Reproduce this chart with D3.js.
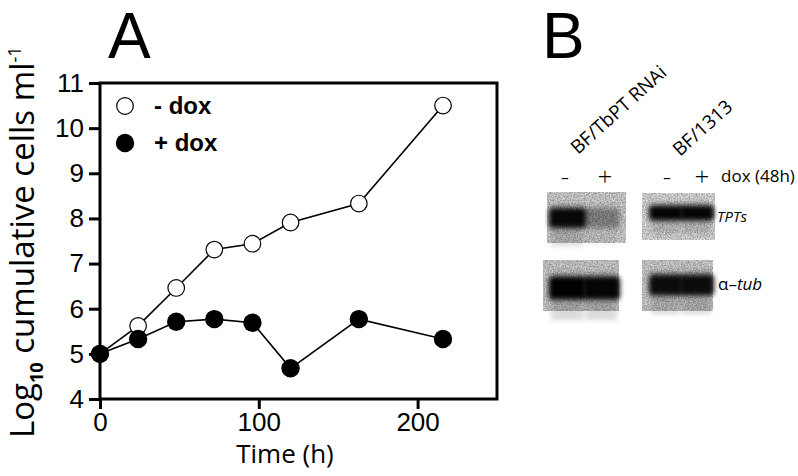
<!DOCTYPE html>
<html>
<head>
<meta charset="utf-8">
<script src="https://cdn.jsdelivr.net/npm/d3@7"></script>
<style>
  html, body { margin: 0; padding: 0; background: #fff; }
  svg { display: block; }
</style>
</head>
<body>
<div id="chart"></div>
<script>
// growth curve values (log10 cumulative cells/ml)
const hours = [0, 24, 48, 72, 96, 120, 163, 216];
const minusDox = [5.0, 5.62, 6.46, 7.31, 7.44, 7.91, 8.33, 10.5];
const plusDox = [5.0, 5.33, 5.71, 5.77, 5.69, 4.68, 5.77, 5.33];
const xTicks = [0, 100, 200];
const yTicks = [4, 5, 6, 7, 8, 9, 10, 11];
const legendLabels = ["- dox", "+ dox"];

// northern blot panel
const blotLanes = ["-", "+"];
const tptsRnai = [0.95, 0.32];
const tptsCtrl = [0.97, 0.97];
const tubRnai = [1.0, 0.97];
const tubCtrl = [0.92, 0.92];

const width = 798, height = 476;

const svg = d3.select("#chart")
  .append("svg")
  .attr("width", width)
  .attr("height", height);

const defs = svg.append("defs");

// soft edges for the bands
defs.append("filter")
  .attr("id", "blur")
  .attr("x", "-30%").attr("y", "-60%")
  .attr("width", "160%").attr("height", "220%")
  .append("feGaussianBlur")
  .attr("stdDeviation", 2.4);

// film grain on the blot background
const grain = defs.append("filter")
  .attr("id", "grain")
  .attr("x", 0).attr("y", 0).attr("width", 1).attr("height", 1);
grain.append("feTurbulence")
  .attr("type", "fractalNoise")
  .attr("baseFrequency", 0.75)
  .attr("numOctaves", 2)
  .attr("seed", 3);
grain.append("feColorMatrix")
  .attr("type", "matrix")
  .attr("values", "0 0 0 0 0  0 0 0 0 0  0 0 0 0 0  0.7 0 0 0 -0.2");

// ---------- panel A ----------
const x = d3.scaleLinear().domain([0, 250]).range([100, 497]);
const y = d3.scaleLinear().domain([4, 11]).range([399, 83]);

svg.append("text")
  .attr("x", 108)
  .attr("y", 58)
  .attr("font-family", "Liberation Sans, Arial, sans-serif")
  .attr("font-size", 64)
  .text("A");

// frame
svg.append("rect")
  .attr("x", x(0))
  .attr("y", y(11))
  .attr("width", x(250) - x(0))
  .attr("height", y(4) - y(11))
  .attr("fill", "none")
  .attr("stroke", "#000")
  .attr("stroke-width", 3);

const xAxis = svg.append("g")
  .attr("transform", `translate(0,${y(4)})`)
  .call(d3.axisBottom(x).tickValues(xTicks).tickFormat(d3.format("d")).tickSize(10).tickPadding(4));

const yAxis = svg.append("g")
  .attr("transform", `translate(${x(0)},0)`)
  .call(d3.axisLeft(y).tickValues(yTicks).tickFormat(d3.format("d")).tickSize(11).tickPadding(5));

[xAxis, yAxis].forEach(ax => {
  ax.select(".domain").remove();
  ax.selectAll("line").attr("stroke", "#000").attr("stroke-width", 3);
  ax.selectAll("text")
    .attr("fill", "#000")
    .attr("font-family", "Liberation Sans, Arial, sans-serif")
    .attr("font-size", 26);
});

svg.append("text")
  .attr("x", 285)
  .attr("y", 463)
  .attr("text-anchor", "middle")
  .attr("font-family", "Open Sans, sans-serif")
  .attr("font-size", 26)
  .text("Time (h)");

// y label, rotated, with sub/superscripts
const yLab = svg.append("text")
  .attr("transform", "translate(34,438) rotate(-90)")
  .attr("font-family", "Open Sans, sans-serif")
  .attr("font-size", 33);
yLab.append("tspan").text("Log");
yLab.append("tspan").attr("font-size", 18).attr("font-weight", "bold").attr("dy", 9).text("10");
yLab.append("tspan").attr("dy", -9).text(" cumulative cells ml");
yLab.append("tspan").attr("font-size", 18).attr("dy", -13).text("-1");

const line = d3.line()
  .x((d, i) => x(hours[i]))
  .y(d => y(d));

svg.append("path")
  .datum(minusDox)
  .attr("fill", "none")
  .attr("stroke", "#000")
  .attr("stroke-width", 1.6)
  .attr("d", line);

svg.append("path")
  .datum(plusDox)
  .attr("fill", "none")
  .attr("stroke", "#000")
  .attr("stroke-width", 1.6)
  .attr("d", line);

svg.append("g")
  .selectAll("circle")
  .data(minusDox)
  .join("circle")
  .attr("cx", (d, i) => x(hours[i]))
  .attr("cy", d => y(d))
  .attr("r", 8.3)
  .attr("fill", "#fff")
  .attr("stroke", "#000")
  .attr("stroke-width", 1.2);

svg.append("g")
  .selectAll("circle")
  .data(plusDox)
  .join("circle")
  .attr("cx", (d, i) => x(hours[i]))
  .attr("cy", d => y(d))
  .attr("r", 9.2)
  .attr("fill", "#000");

// legend
const legend = svg.append("g").attr("transform", "translate(125,106)");
legendLabels.forEach((lab, i) => {
  legend.append("circle")
    .attr("cx", 0)
    .attr("cy", i * 37)
    .attr("r", i === 0 ? 8.3 : 9.2)
    .attr("fill", i === 0 ? "#fff" : "#000")
    .attr("stroke", "#000")
    .attr("stroke-width", i === 0 ? 1.2 : 0);
  legend.append("text")
    .attr("x", 29)
    .attr("y", i * 37 + 8)
    .attr("font-family", "Liberation Sans, Arial, sans-serif")
    .attr("font-weight", "bold")
    .attr("font-size", 24)
    .text(lab);
});

// ---------- panel B ----------
svg.append("text")
  .attr("x", 542)
  .attr("y", 58)
  .attr("font-family", "Liberation Sans, Arial, sans-serif")
  .attr("font-size", 64)
  .text("B");

const laneRnai = d3.scaleBand().domain(blotLanes).range([550, 618]);
const laneCtrl = d3.scaleBand().domain(blotLanes).range([650, 712]);

const drawBlot = (box, lanes, values, bandY, bandH, bg) => {
  const g = svg.append("g");
  g.append("rect")
    .attr("x", box[0]).attr("y", box[1])
    .attr("width", box[2] - box[0]).attr("height", box[3] - box[1])
    .attr("fill", bg);
  g.append("rect")
    .attr("x", box[0]).attr("y", box[1])
    .attr("width", box[2] - box[0]).attr("height", box[3] - box[1])
    .attr("filter", "url(#grain)");
  // faint smear around the signal
  g.selectAll(".smear")
    .data(values)
    .join("rect")
    .attr("class", "smear")
    .attr("x", (d, i) => lanes(blotLanes[i]) + 1)
    .attr("y", bandY - bandH * 0.7)
    .attr("width", lanes.bandwidth() - 2)
    .attr("height", bandH * 2.1)
    .attr("fill", "#000")
    .attr("opacity", d => d * 0.14)
    .attr("filter", "url(#blur)");
  g.selectAll(".band")
    .data(values)
    .join("rect")
    .attr("class", "band")
    .attr("x", (d, i) => lanes(blotLanes[i]) - 1)
    .attr("y", bandY - bandH / 2)
    .attr("width", lanes.bandwidth() + 3)
    .attr("height", bandH)
    .attr("rx", 4)
    .attr("fill", "#050505")
    .attr("opacity", d => d)
    .attr("filter", "url(#blur)");
};

drawBlot([547, 192, 626, 243], laneRnai, tptsRnai, 218, 20, "#dadada");
drawBlot([642, 193, 715, 240], laneCtrl, tptsCtrl, 213, 15, "#e6e6e6");
drawBlot([543, 260, 619, 311], laneRnai, tubRnai, 288, 23, "#d6d6d6");
drawBlot([642, 260, 713, 311], laneCtrl, tubCtrl, 285, 21, "#d8d8d8");

const bFont = "Open Sans, sans-serif";

svg.append("text")
  .attr("transform", "translate(578,155) rotate(-42)")
  .attr("font-family", bFont)
  .attr("font-size", 19)
  .text("BF/TbPT RNAi");

svg.append("text")
  .attr("transform", "translate(680,157) rotate(-42)")
  .attr("font-family", bFont)
  .attr("font-size", 19)
  .text("BF/1313");

// lane signs
[[565, 605], [667, 702]].forEach(xs => {
  blotLanes.forEach((s, i) => {
    svg.append("text")
      .attr("x", xs[i])
      .attr("y", 186)
      .attr("text-anchor", "middle")
      .attr("font-family", bFont)
      .attr("font-weight", 300)
      .attr("font-size", 26)
      .text(s);
  });
});

svg.append("text")
  .attr("x", 721)
  .attr("y", 182)
  .attr("font-family", bFont)
  .attr("font-size", 17)
  .text("dox (48h)");

svg.append("text")
  .attr("x", 717)
  .attr("y", 222)
  .attr("font-family", bFont)
  .attr("font-style", "italic")
  .attr("font-size", 15)
  .text("TPTs");

svg.append("text")
  .attr("x", 718)
  .attr("y", 290)
  .attr("font-family", bFont)
  .attr("font-size", 17)
  .html("α–<tspan font-style='italic'>tub</tspan>");
</script>
</body>
</html>
